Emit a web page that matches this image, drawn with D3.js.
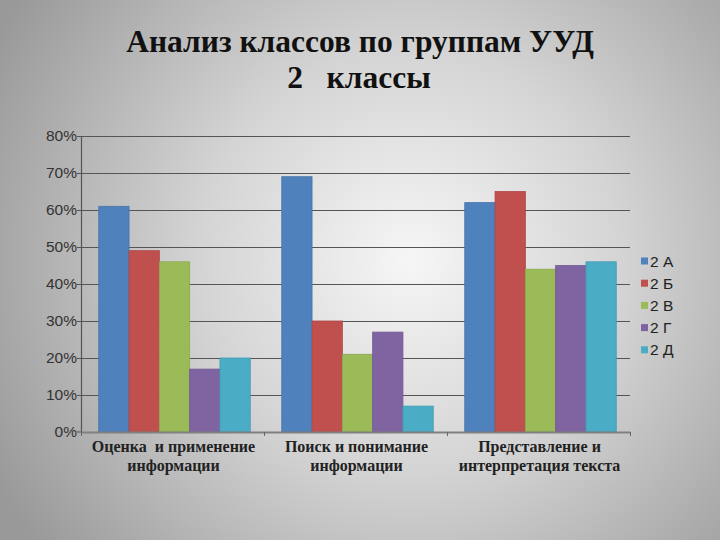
<!DOCTYPE html>
<html><head><meta charset="utf-8">
<script src="https://cdn.jsdelivr.net/npm/d3@7"></script>
<style>html,body{margin:0;padding:0;}svg{display:block;}</style>
</head><body>
<script>
const categories = [["Оценка  и применение","информации"],["Поиск и понимание","информации"],["Представление и","интерпретация текста"]];
const seriesNames = ["2 А","2 Б","2 В","2 Г","2 Д"];
const series2A = [0.61, 0.69, 0.62];
const series2B = [0.49, 0.30, 0.65];
const series2V = [0.46, 0.21, 0.44];
const series2G = [0.17, 0.27, 0.45];
const series2D = [0.20, 0.07, 0.46];
const yTicks = [0,0.1,0.2,0.3,0.4,0.5,0.6,0.7,0.8];
const colors = ["#4F81BD","#C0504D","#9BBB59","#8064A2","#4BACC6"];
const allSeries = [series2A, series2B, series2V, series2G, series2D];

(function(){
const W=720,H=540;
const svg=d3.select("body").append("svg").attr("width",W).attr("height",H);
const defs=svg.append("defs");
const rg=defs.append("radialGradient").attr("id","bg").attr("gradientUnits","userSpaceOnUse")
  .attr("cx",410).attr("cy",260).attr("r",470);
rg.append("stop").attr("offset","0").attr("stop-color","#f6f6f6");
rg.append("stop").attr("offset","0.45").attr("stop-color","#d4d4d4");
rg.append("stop").attr("offset","1").attr("stop-color","#999999");
svg.append("rect").attr("width",W).attr("height",H).attr("fill","url(#bg)");

// title
const title=svg.append("text").attr("text-anchor","middle").attr("font-family","'Liberation Serif','Times New Roman',serif")
  .attr("font-weight","bold").attr("font-size",31.5).attr("fill","#111");
title.append("tspan").attr("x",360).attr("y",52).text("Анализ классов по группам УУД");
title.append("tspan").attr("x",359).attr("y",88).style("white-space","pre").text("2   классы");

const pL=81,pR=630,pT=136,pB=432;
const y=d3.scaleLinear().domain([0,0.8]).range([pB,pT]);
const x0=d3.scaleBand().domain(d3.range(categories.length)).range([pL,pR]).paddingInner(0).paddingOuter(0);
const x1=d3.scaleBand().domain(d3.range(seriesNames.length)).range([2,x0.bandwidth()+2]).paddingInner(0).paddingOuter(0.52);

// gridlines + y axis
const yAxis=d3.axisLeft(y).tickValues(yTicks).tickFormat(d3.format(".0%")).tickSize(-(pR-pL)).tickSizeOuter(0).tickPadding(6);
const gy=svg.append("g").attr("transform",`translate(${pL},0)`).call(yAxis);
gy.select(".domain").attr("stroke","#555").attr("stroke-width",1.2);
gy.selectAll(".tick line").attr("stroke","#555").attr("stroke-width",1.2).attr("x1",-4);
gy.selectAll(".tick text").attr("font-family","'Liberation Sans',Arial,sans-serif").attr("font-size",15.5).attr("fill","#333").attr("x",-4);
gy.selectAll(".tick").filter(d=>d===0).select("line").attr("stroke","none");

// bars
const groups=svg.append("g").selectAll("g").data(categories).join("g")
  .attr("transform",(d,i)=>`translate(${x0(i)},0)`);
groups.selectAll("rect").data((d,i)=>allSeries.map((s,j)=>({v:s[i],j}))).join("rect")
  .attr("x",d=>x1(d.j)).attr("width",x1.bandwidth())
  .attr("y",d=>y(d.v)).attr("height",d=>pB-y(d.v))
  .attr("fill",d=>colors[d.j]).attr("stroke",d=>d3.color(colors[d.j]).darker(0.3)).attr("stroke-width",0.8);

// x axis
const xAxis=d3.axisBottom(d3.scaleLinear().domain([0,3]).range([pL,pR])).tickValues([0,1,2,3]).tickFormat("").tickSize(4).tickSizeOuter(0);
const gx=svg.append("g").attr("transform",`translate(0,${pB})`).call(xAxis);
gx.select(".domain").attr("stroke","#808080").attr("stroke-width",2.2);
gx.selectAll(".tick line").attr("stroke","#666");
gx.append("line").attr("x1",pL-5).attr("x2",pL).attr("y1",0).attr("y2",0).attr("stroke","#808080").attr("stroke-width",2.2);

// category labels
const cl=svg.append("g").selectAll("text").data(categories).join("text")
  .attr("text-anchor","middle").attr("font-family","'Liberation Serif','Times New Roman',serif")
  .attr("font-weight","bold").attr("font-size",16).attr("fill","#222")
  .style("white-space","pre");
cl.each(function(d,i){
  const t=d3.select(this);
  d.forEach((line,k)=>t.append("tspan").attr("x",x0(i)+x0.bandwidth()/2+1).attr("y",452+k*18.5).text(line));
});

// legend
const lg=svg.append("g").selectAll("g").data(seriesNames).join("g")
  .attr("transform",(d,i)=>`translate(641,${261+i*22.2})`);
lg.append("rect").attr("x",0).attr("y",-3.5).attr("width",7).attr("height",7).attr("fill",(d,i)=>colors[i]);
lg.append("text").attr("x",9).attr("y",0).attr("dy","0.36em").attr("font-family","'Liberation Sans',Arial,sans-serif")
  .attr("font-size",15.5).attr("fill","#222").text(d=>d);
})();
</script>
</body></html>
